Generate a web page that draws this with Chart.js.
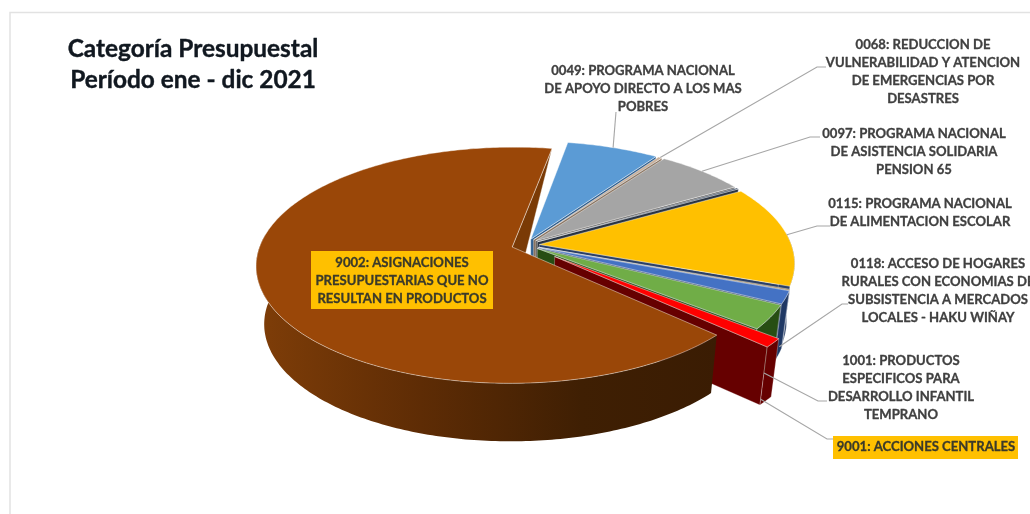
<!DOCTYPE html>
<html>
<head>
<meta charset="utf-8">
<title>Categoría Presupuestal</title>
<script src="https://cdn.jsdelivr.net/npm/chart.js@4"></script>
<style>
  html, body { margin: 0; padding: 0; background: #fff; overflow: hidden; }
  canvas { display: block; }
</style>
</head>
<body>
<canvas id="pie" width="1030" height="514"></canvas>
<script>
/* --- DATA --- */
const categories = ['0049', '0068', '0097', '', '0115', '', '0118', '', '1001 / 9001', '9002'];
const shares = [6.81, 0.28, 6.6, 0.19, 13.96, 0.14, 1.75, 3.28, 1.19, 65.8];
const explode = [14, 14, 14, 14, 14, 14, 14, 14, 38, 14];

/* --- STYLE --- */
const topColors = ['#5B9BD5', '#C9B09A', '#A5A5A5', '#44546A', '#FFC000', '#8C6D3A', '#4472C4', '#70AD47', '#FF0000', '#9A4708'];
const sideColors = ['#2F5F8F', '#8A7460', '#5E5E5E', '#2A3442', '#2A3F66', '#2A3F66', '#1F3864', '#274E13', '#660000', '#4A2304'];

const FONT = 'Lato, "Open Sans", sans-serif';
const RADIUS = 252, SQUASH = 0.455, PERSP = 0.1538, DEPTH = 58, TAPER = 0.97;
const BROWN = shares.length - 1;

const labelBlocks = [
    { cx: 643, y: 71, lines: ['0049: PROGRAMA NACIONAL', 'DE APOYO DIRECTO A LOS MAS', 'POBRES'] },
    { cx: 923, y: 45, lines: ['0068: REDUCCION DE', 'VULNERABILIDAD Y ATENCION', 'DE EMERGENCIAS POR', 'DESASTRES'] },
    { cx: 914, y: 134, lines: ['0097: PROGRAMA NACIONAL', 'DE ASISTENCIA SOLIDARIA', 'PENSION 65'] },
    { cx: 920, y: 204, lines: ['0115: PROGRAMA NACIONAL', 'DE ALIMENTACION ESCOLAR'] },
    { cx: 938, y: 264, lines: ['0118: ACCESO DE HOGARES', 'RURALES CON ECONOMIAS DE', 'SUBSISTENCIA A MERCADOS', 'LOCALES - HAKU WIÑAY'] },
    { cx: 901, y: 361, lines: ['1001: PRODUCTOS', 'ESPECIFICOS PARA', 'DESARROLLO INFANTIL', 'TEMPRANO'] },
    { cx: 926, y: 447, lines: ['9001: ACCIONES CENTRALES'], box: [833, 436, 185, 23] },
    { cx: 402, y: 263, lines: ['9002: ASIGNACIONES', 'PRESUPUESTARIAS QUE NO', 'RESULTAN EN PRODUCTOS'], box: [311, 251, 182, 58] }
];

// slice index, place along the slice rim (0..1), height on the rim (0..1), then elbow and end
const leaders = [
    { slice: 0, along: 0.5, z: 0, pts: [[616, 112]] },
    { slice: 1, along: 0.5, z: 0, pts: [[817, 67], [826, 67]] },
    { slice: 2, along: 0.5, z: 0, pts: [[810, 137], [820, 137]] },
    { slice: 4, along: 0.5, z: 0, pts: [[817, 226], [830, 226]] },
    { slice: 6, along: 0.5, z: 0.85, pts: [[842, 304], [848, 304]] },
    { slice: 8, along: 1, z: 0.45, pts: [[818, 401], [827, 401]] },
    { slice: 8, along: 1, z: 0.9, pts: [[827, 439], [833, 439]] }
];

/* --- 3D PIE --- */
function projector(el) {
    const cx = el.x, cy = el.y;
    return function (mid, off, angle, r, z) {
        const X = off * Math.cos(mid) + r * Math.cos(angle);
        const Y = off * Math.sin(mid) + r * Math.sin(angle);
        const s = 1 / (1 - PERSP * Y / RADIUS);
        const taper = 1 - (1 - TAPER) * z;
        return [cx + X * s * taper, cy + SQUASH * Y * s + DEPTH * z];
    };
}

function tracePoints(ctx, pts) {
    ctx.beginPath();
    pts.forEach((p, i) => i ? ctx.lineTo(p[0], p[1]) : ctx.moveTo(p[0], p[1]));
    ctx.closePath();
}

function sliceGeometry(el) {
    const project = projector(el);
    const mid = (el.startAngle + el.endAngle) / 2;
    const off = el.options.offset;
    const steps = Math.max(2, Math.ceil((el.endAngle - el.startAngle) / 0.015));
    const angles = [];
    for (let i = 0; i <= steps; i++) angles.push(el.startAngle + (el.endAngle - el.startAngle) * i / steps);
    const rim = z => angles.map(a => project(mid, off, a, RADIUS, z));
    // only the part of the rim that faces the viewer
    const frontAngles = angles.filter(a => Math.sin(a) > -0.12);
    const front = z => frontAngles.map(a => project(mid, off, a, RADIUS, z));
    return { apex: z => project(mid, off, 0, 0, z), rim, front };
}

function paintFace(ctx, pts, fill, stroke) {
    tracePoints(ctx, pts);
    ctx.fillStyle = fill;
    ctx.fill();
    if (stroke) {
        ctx.lineWidth = 0.8;
        ctx.strokeStyle = stroke;
        ctx.stroke();
    }
}

function paintTop(ctx, g, i) {
    paintFace(ctx, [g.apex(0)].concat(g.rim(0)), topColors[i], 'rgba(255,255,255,0.55)');
}

function paintWalls(ctx, g, i) {
    const top = g.rim(0), bottom = g.rim(1);
    const last = top.length - 1;
    paintFace(ctx, [g.apex(0), top[last], bottom[last], g.apex(1)], sideColors[i], 'rgba(255,255,255,0.35)');
    const ft = g.front(0), fb = g.front(1);
    if (ft.length > 1) paintFace(ctx, ft.concat(fb.slice().reverse()), sideColors[i], 'rgba(255,255,255,0.35)');
}

const pie3d = {
    id: 'pie3d',
    beforeDatasetsDraw(chart) {
        const ctx = chart.ctx;
        const arcs = chart.getDatasetMeta(0).data;
        const geo = arcs.map(sliceGeometry);

        ctx.save();
        // back wall of the big slice, seen behind the small ones
        const b = geo[BROWN], bTop = b.rim(0);
        paintFace(ctx, [b.apex(0), bTop[bTop.length - 1], b.apex(1)], '#7A3A05', 'rgba(255,255,255,0.5)');

        // small slices, back to front
        for (let i = 0; i < BROWN; i++) {
            paintWalls(ctx, geo[i], i);
            paintTop(ctx, geo[i], i);
        }

        // big slice rim with its shading, then its top
        const grad = ctx.createLinearGradient(260, 0, 720, 0);
        grad.addColorStop(0, '#7E3D08');
        grad.addColorStop(0.35, '#5E2C05');
        grad.addColorStop(0.7, '#3F1F03');
        grad.addColorStop(1, '#3A1C03');
        paintFace(ctx, b.front(0).concat(b.front(1).reverse()), grad, null);
        paintTop(ctx, b, BROWN);
        ctx.restore();
        return false;
    },
    afterDraw(chart) {
        const ctx = chart.ctx;
        const arcs = chart.getDatasetMeta(0).data;
        ctx.save();

        // frame
        ctx.strokeStyle = '#E2E2E2';
        ctx.lineWidth = 1.5;
        ctx.beginPath();
        ctx.moveTo(10, 514);
        ctx.lineTo(10, 12.5);
        ctx.lineTo(1030, 12.5);
        ctx.stroke();

        // leader lines
        ctx.strokeStyle = '#A6A6A6';
        ctx.lineWidth = 1.1;
        leaders.forEach(l => {
            const el = arcs[l.slice];
            const mid = (el.startAngle + el.endAngle) / 2;
            const a = el.startAngle + (el.endAngle - el.startAngle) * l.along;
            const start = projector(el)(mid, el.options.offset, a, RADIUS, l.z);
            ctx.beginPath();
            ctx.moveTo(start[0], start[1]);
            l.pts.forEach(p => ctx.lineTo(p[0], p[1]));
            ctx.stroke();
        });

        // labels
        ctx.textAlign = 'center';
        ctx.textBaseline = 'middle';
        ctx.lineJoin = 'round';
        labelBlocks.forEach(block => {
            if (block.box) {
                ctx.fillStyle = '#FFC000';
                ctx.fillRect(block.box[0], block.box[1], block.box[2], block.box[3]);
            }
            ctx.font = 'bold 13.1px ' + FONT;
            ctx.fillStyle = ctx.strokeStyle = block.box ? '#3B3A2A' : '#404040';
            ctx.lineWidth = 0.3;
            block.lines.forEach((line, i) => {
                const y = block.y + i * 17.8;
                ctx.fillText(line, block.cx, y);
                ctx.strokeText(line, block.cx, y);
            });
        });

        // title
        ctx.font = 'bold 24.4px ' + FONT;
        ctx.fillStyle = ctx.strokeStyle = '#111820';
        ctx.lineWidth = 0.4;
        ['Categoría Presupuestal', 'Período ene - dic 2021'].forEach((line, i) => {
            ctx.fillText(line, 193, 49 + i * 31);
            ctx.strokeText(line, 193, 49 + i * 31);
        });
        ctx.restore();
    }
};

/* --- CHART --- */
new Chart(document.getElementById('pie'), {
    type: 'pie',
    data: {
        labels: categories,
        datasets: [{ data: shares, backgroundColor: topColors, offset: explode, borderWidth: 0 }]
    },
    options: {
        responsive: false,
        animation: false,
        rotation: 10,
        layout: { padding: { left: 21, bottom: 24 } },
        plugins: { legend: { display: false }, tooltip: { enabled: false }, title: { display: false } }
    },
    plugins: [pie3d]
});
</script>
</body>
</html>
